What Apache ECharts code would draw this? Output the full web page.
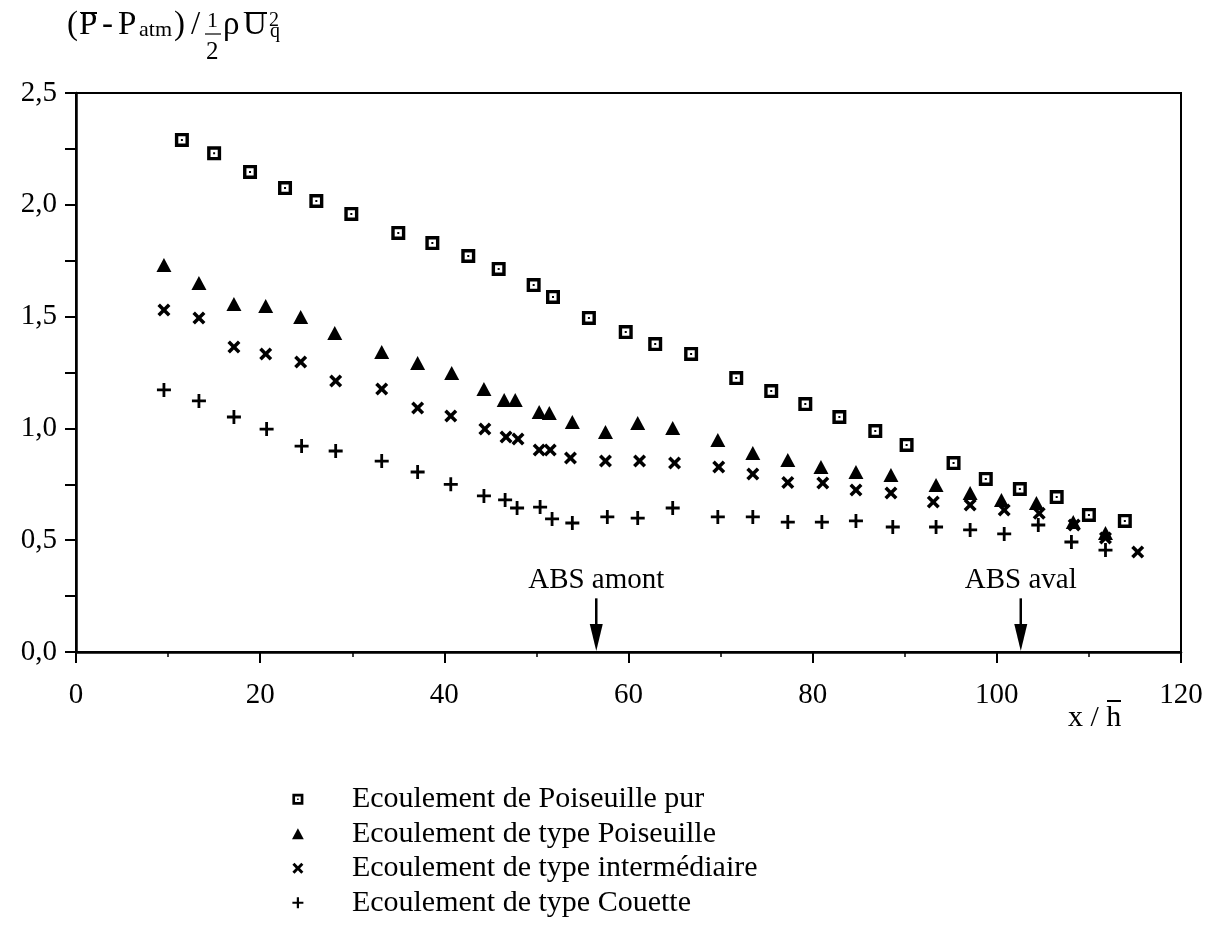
<!DOCTYPE html>
<html>
<head>
<meta charset="utf-8">
<style>
  html, body { margin: 0; padding: 0; background: #fff; }
  #main { width: 1221px; height: 932px; }
</style>
<script src="https://cdn.jsdelivr.net/npm/echarts@6/dist/echarts.min.js"></script>
</head>
<body>
<div id="main"></div>
<script>
// Series names (legend entries)
const namePur = 'Ecoulement de Poiseuille pur';
const namePois = 'Ecoulement de type Poiseuille';
const nameInter = 'Ecoulement de type intermédiaire';
const nameCouette = 'Ecoulement de type Couette';

// Ecoulement de Poiseuille pur
const xPur = [11.5, 15.0, 18.9, 22.7, 26.1, 29.9, 35.0, 38.7, 42.6, 45.9, 49.7, 51.8, 55.7, 59.7,
  62.9, 66.8, 71.7, 75.5, 79.2, 82.9, 86.8, 90.2, 95.3, 98.8, 102.5, 106.5, 110.0, 113.9];
const yPur = [2.29, 2.23, 2.147, 2.075, 2.017, 1.959, 1.874, 1.829, 1.771, 1.713, 1.641, 1.588, 1.494, 1.431,
  1.377, 1.333, 1.225, 1.167, 1.109, 1.051, 0.988, 0.926, 0.845, 0.774, 0.729, 0.693, 0.613, 0.586];

// Ecoulement de type Poiseuille
const xPois = [9.55, 13.35, 17.15, 20.6, 24.4, 28.1, 33.2, 37.1, 40.8, 44.3, 46.5, 47.7, 50.3, 51.4, 53.9,
  57.5, 61.0, 64.8, 69.7, 73.5, 77.3, 80.9, 84.7, 88.5, 93.4, 97.1, 100.5, 104.3, 108.3, 111.8];
const yPois = [1.731, 1.650, 1.556, 1.547, 1.498, 1.427, 1.342, 1.292, 1.248, 1.176, 1.127, 1.127, 1.073, 1.069, 1.029,
  0.984, 1.024, 1.002, 0.948, 0.890, 0.859, 0.827, 0.805, 0.792, 0.747, 0.711, 0.680, 0.666, 0.581, 0.532];

// Ecoulement de type intermédiaire
const xInter = [9.55, 13.35, 17.15, 20.6, 24.4, 28.2, 33.2, 37.1, 40.7, 44.4, 46.7, 48.0, 50.3, 51.5, 53.7,
  57.5, 61.2, 65.0, 69.8, 73.5, 77.3, 81.1, 84.7, 88.5, 93.1, 97.1, 100.8, 104.6, 108.4, 111.8, 115.3];
const yInter = [1.530, 1.494, 1.364, 1.333, 1.297, 1.212, 1.176, 1.091, 1.055, 0.997, 0.962, 0.953, 0.903, 0.903, 0.868,
  0.854, 0.854, 0.845, 0.827, 0.796, 0.758, 0.756, 0.724, 0.711, 0.671, 0.657, 0.635, 0.621, 0.568, 0.510, 0.447];

// Ecoulement de type Couette
const xCouette = [9.55, 13.35, 17.15, 20.7, 24.5, 28.2, 33.2, 37.1, 40.7, 44.3, 46.6, 47.9, 50.4, 51.7, 53.9,
  57.7, 61.0, 64.8, 69.7, 73.5, 77.3, 81.0, 84.7, 88.7, 93.4, 97.1, 100.8, 104.5, 108.1, 111.8];
const yCouette = [1.172, 1.123, 1.051, 0.997, 0.921, 0.899, 0.854, 0.805, 0.750, 0.698, 0.680, 0.644, 0.648, 0.595, 0.577,
  0.604, 0.599, 0.644, 0.604, 0.604, 0.581, 0.581, 0.586, 0.559, 0.559, 0.546, 0.528, 0.568, 0.492, 0.456];

// Absorber positions marked with arrows
const arrowX = [56.5, 102.6];
const arrowLabels = ['ABS amont', 'ABS aval'];

// Axis ticks
const xTicks = { min: 0, max: 120, interval: 20 };
const yTicks = { min: 0, max: 2.5, interval: 0.5 };

const zip = (xs, ys) => xs.map((x, i) => [x, ys[i]]);
const SERIF = '"Liberation Serif", "Times New Roman", serif';

// Marker shapes
const symSquareDot = 'path://M0 0 L14 0 L14 14 L0 14 Z M3.4 3.4 L3.4 10.6 L10.6 10.6 L10.6 3.4 Z M6 6 L8 6 L8 8 L6 8 Z';
const symTriangle = 'path://M7.5 0 L15 14 L0 14 Z';
const symCross = 'path://M0 2.5 L2.5 0 L6.5 4 L10.5 0 L13 2.5 L9 6.5 L13 10.5 L10.5 13 L6.5 9 L2.5 13 L0 10.5 L4 6.5 Z';
const symPlus = 'path://M5.6 0 L8.4 0 L8.4 5.6 L14 5.6 L14 8.4 L8.4 8.4 L8.4 14 L5.6 14 L5.6 8.4 L0 8.4 L0 5.6 L5.6 5.6 Z';

function scatter(name, data, symbol, size) {
  return {
    type: 'scatter', name, data, symbol, symbolSize: size, symbolKeepAspect: true,
    itemStyle: { color: '#000', opacity: 1 }, emphasis: { disabled: true }, silent: true
  };
}

// Arrow geometry in data units / pixels
const ARROW_TOP = 0.24;
const LABEL_Y = 0.322;
const HEAD_LEN = 28;
const HEAD_HALF = 6.5;

const chart = echarts.init(document.getElementById('main'), null, { renderer: 'canvas' });

const fontOf = (s) => s + 'px ' + SERIF;
function txt(text, x, y, size) {
  return { type: 'text', x, y, silent: true,
    style: { text, font: fontOf(size), fill: '#000', align: 'left', textAlign: 'left',
             verticalAlign: 'middle', textVerticalAlign: 'middle' } };
}
function bar(x1, x2, y, w) {
  return { type: 'line', silent: true, shape: { x1, y1: y, x2, y2: y }, style: { stroke: '#000', lineWidth: w } };
}

chart.setOption({
  animation: false,
  backgroundColor: '#fff',
  grid: { left: 76, right: 40, top: 93, bottom: 280, show: true, borderColor: '#000', borderWidth: 2, containLabel: false },
  xAxis: {
    type: 'value', min: xTicks.min, max: xTicks.max, interval: xTicks.interval,
    axisLine: { show: true, onZero: false, lineStyle: { color: '#000', width: 2.5 } },
    axisTick: { show: true, inside: false, length: 11, lineStyle: { color: '#000', width: 2 } },
    minorTick: { show: true, splitNumber: 2, length: 5, lineStyle: { color: '#000', width: 1.5 } },
    splitLine: { show: false },
    axisLabel: { color: '#000', fontFamily: SERIF, fontSize: 29, margin: 29 }
  },
  yAxis: {
    type: 'value', min: yTicks.min, max: yTicks.max, interval: yTicks.interval,
    axisLine: { show: true, onZero: false, lineStyle: { color: '#000', width: 2.5 } },
    axisTick: { show: true, inside: false, length: 11, lineStyle: { color: '#000', width: 2 } },
    minorTick: { show: true, splitNumber: 2, length: 11, lineStyle: { color: '#000', width: 2 } },
    splitLine: { show: false },
    axisLabel: { color: '#000', fontFamily: SERIF, fontSize: 29, margin: 19,
                 formatter: (v) => v.toFixed(1).replace('.', ',') }
  },
  legend: {
    orient: 'vertical', left: 287, top: 779,
    itemWidth: 98, itemHeight: 11, itemGap: 4,
    selectedMode: false,
    data: [namePur, namePois, nameInter, nameCouette],
    textStyle: { color: '#000', fontFamily: SERIF, fontSize: 30, lineHeight: 30.5 }
  },
  graphic: [
    // y-axis quantity: (P̄ - P_atm) / ½ ρ Ū_q²
    txt('(', 67, 25, 33),
    txt('P', 79, 25, 33),
    bar(81, 97, 13, 2),
    txt('-', 102, 25, 33),
    txt('P', 118, 25, 33),
    txt('atm', 139, 30.5, 22),
    txt(')', 174, 25, 33),
    txt('/', 191, 25, 33),
    txt('1', 207, 21, 22),
    bar(205, 221, 34, 1.2),
    txt('2', 206, 52, 25),
    txt('ρ', 223, 25, 33),
    txt('U', 243, 25, 33),
    bar(246, 267, 13, 2),
    txt('2', 269, 21, 20),
    txt('q', 270, 32, 20),
    // x-axis quantity: x / h̄
    txt('x / h', 1068, 718, 30),
    bar(1107, 1121, 701, 2)
  ],
  series: [
    scatter(namePur, zip(xPur, yPur), symSquareDot, 14),
    scatter(namePois, zip(xPois, yPois), symTriangle, 15),
    scatter(nameInter, zip(xInter, yInter), symCross, 13),
    scatter(nameCouette, zip(xCouette, yCouette), symPlus, 14),
    {
      type: 'custom', name: 'ABS', coordinateSystem: 'cartesian2d', silent: true, z: 5,
      data: arrowX.map((x) => [x, 0]),
      renderItem: function (params, api) {
        const x = api.value(0);
        const top = api.coord([x, ARROW_TOP]);
        const tip = api.coord([x, 0]);
        const lab = api.coord([x, LABEL_Y]);
        return {
          type: 'group',
          children: [
            { type: 'line', shape: { x1: top[0], y1: top[1], x2: tip[0], y2: tip[1] - HEAD_LEN + 2 },
              style: { stroke: '#000', lineWidth: 2.5 } },
            { type: 'polygon',
              shape: { points: [[tip[0] - HEAD_HALF, tip[1] - HEAD_LEN], [tip[0] + HEAD_HALF, tip[1] - HEAD_LEN], [tip[0], tip[1] - 1]] },
              style: { fill: '#000' } },
            { type: 'text', x: lab[0], y: lab[1],
              style: { text: arrowLabels[params.dataIndex], font: fontOf(29), fill: '#000',
                       align: 'center', textAlign: 'center', verticalAlign: 'middle', textVerticalAlign: 'middle' } }
          ]
        };
      }
    }
  ]
});
</script>
</body>
</html>
